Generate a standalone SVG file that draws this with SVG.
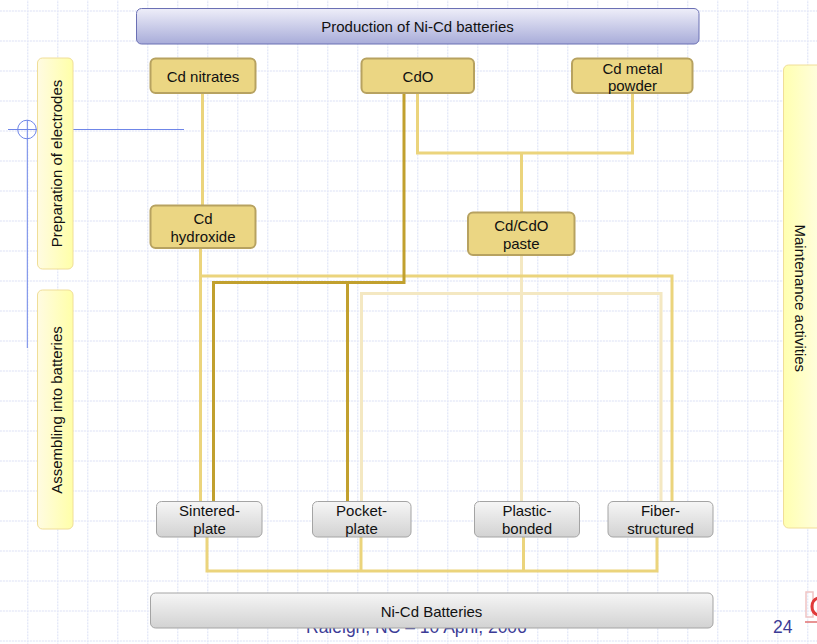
<svg xmlns="http://www.w3.org/2000/svg" width="817" height="644" viewBox="0 0 817 644">
<defs>
  <pattern id="grid" patternUnits="userSpaceOnUse" x="27.3" y="10.5" width="30" height="30">
    <line x1="0.5" y1="0" x2="0.5" y2="30" stroke="#cdd5f2" stroke-width="1" stroke-dasharray="1.5 1.5"/>
    <line x1="0" y1="0.5" x2="30" y2="0.5" stroke="#cdd5f2" stroke-width="1" stroke-dasharray="1.5 1.5"/>
  </pattern>
  <linearGradient id="hdr" x1="0" y1="0" x2="0" y2="1">
    <stop offset="0" stop-color="#eeeef9"/>
    <stop offset="1" stop-color="#a8acd9"/>
  </linearGradient>
  <linearGradient id="gray" x1="0" y1="0" x2="0" y2="1">
    <stop offset="0" stop-color="#f6f6f6"/>
    <stop offset="1" stop-color="#d2d2d2"/>
  </linearGradient>
  <linearGradient id="panL" x1="0" y1="0" x2="1" y2="0">
    <stop offset="0" stop-color="#fffbe2"/>
    <stop offset="1" stop-color="#ffffa8"/>
  </linearGradient>
  <linearGradient id="panR" x1="0" y1="0" x2="1" y2="0">
    <stop offset="0" stop-color="#ffffb0"/>
    <stop offset="1" stop-color="#fffdea"/>
  </linearGradient>
</defs>
<style>
  text { font-family: "Liberation Sans", Arial, sans-serif; font-size: 15px; fill: #111; }
  .c { text-anchor: middle; }
  .gold { fill: #ebd683; stroke: #b7a260; stroke-width: 2; }
  .grey { fill: url(#gray); stroke: #a4a4a4; stroke-width: 1; }
  .panel { stroke: #f0de98; stroke-width: 1; }
  .med { fill: none; stroke: #ebd47c; stroke-width: 3; }
  .dark { fill: none; stroke: #c1a02e; stroke-width: 3; }
  .pale { fill: none; stroke: #f4e8c2; stroke-width: 3; }
  .foot { font-size: 17.5px; fill: #3c3c96; }
</style>

<rect x="0" y="0" width="817" height="644" fill="#ffffff"/>
<rect x="0" y="0" width="817" height="644" fill="url(#grid)"/>

<text class="foot" x="306" y="633">Raleigh, NC – 10 April, 2006</text>
<text class="foot" x="773" y="633">24</text>

<g id="logo">
  <rect x="806" y="592" width="7" height="25" fill="none" stroke="#f0c4c4" stroke-width="1.5"/>
  <path d="M818 598 A9 9 0 0 0 818 615" fill="none" stroke="#e03a3a" stroke-width="3"/>
  <line x1="805" y1="622" x2="817" y2="622" stroke="#e07070" stroke-width="1.5"/>
</g>

<g id="crosshair" stroke="#6f86e8" stroke-width="1" fill="none">
  <circle cx="27" cy="129.5" r="9.3"/>
  <line x1="8" y1="129.5" x2="184" y2="129.5"/>
  <line x1="27.3" y1="120" x2="27.3" y2="348"/>
</g>

<g id="panel-prep">
  <rect class="panel" x="37.5" y="58" width="35.5" height="211" rx="5" fill="url(#panL)"/>
  <text class="c" transform="translate(62.3,163.5) rotate(-90)">Preparation of electrodes</text>
</g>
<g id="panel-assembly">
  <rect class="panel" x="37.5" y="290" width="35.5" height="239" rx="5" fill="url(#panL)"/>
  <text class="c" transform="translate(62.3,410) rotate(-90)">Assembling into batteries</text>
</g>
<g id="panel-maint">
  <rect class="panel" x="783.5" y="65" width="45" height="463" rx="5" fill="url(#panR)"/>
  <text class="c" transform="translate(795,298.3) rotate(90)">Maintenance activities</text>
</g>

<g id="header">
  <rect x="136.5" y="8.5" width="562.5" height="35.5" rx="5" fill="url(#hdr)" stroke="#6b70b4" stroke-width="1"/>
  <text class="c" x="417.5" y="32.3">Production of Ni-Cd batteries</text>
</g>

<g id="connectors">
  <path class="pale" d="M521.5 255 V501"/>
  <path class="pale" d="M361.5 501 V293.5 H661 V501"/>
  <path class="med" d="M202.5 93 V205"/>
  <path class="med" d="M200.5 248 V501"/>
  <path class="med" d="M200.5 276 H672 V501"/>
  <path class="med" d="M417.5 93 V153 H632.5 V93"/>
  <path class="med" d="M521.5 153 V212"/>
  <path class="med" d="M207 537 V571 H657 V537"/>
  <path class="med" d="M361 537 V571"/>
  <path class="med" d="M523.5 537 V571"/>
  <path class="dark" d="M404 93 V282.5 H213.5 V501"/>
  <path class="dark" d="M347.5 282.5 V501"/>
</g>

<g id="cd-nitrates">
  <rect class="gold" x="150.5" y="58.5" width="105" height="34.5" rx="5"/>
  <text class="c" x="203" y="82.3">Cd nitrates</text>
</g>
<g id="cdo">
  <rect class="gold" x="361.5" y="58.5" width="112.5" height="34.5" rx="5"/>
  <text class="c" x="418" y="82.3">CdO</text>
</g>
<g id="cd-metal-powder">
  <rect class="gold" x="572" y="58.5" width="120.5" height="34.5" rx="5"/>
  <text class="c" x="632.5" y="74">Cd metal</text>
  <text class="c" x="632.5" y="90.5">powder</text>
</g>
<g id="cd-hydroxide">
  <rect class="gold" x="150.5" y="205.5" width="105" height="42.5" rx="5"/>
  <text class="c" x="203" y="224.3">Cd</text>
  <text class="c" x="203" y="242.3">hydroxide</text>
</g>
<g id="cd-cdo-paste">
  <rect class="gold" x="468" y="212.5" width="106.5" height="42.5" rx="5"/>
  <text class="c" x="521.3" y="231">Cd/CdO</text>
  <text class="c" x="521.3" y="249">paste</text>
</g>

<g id="sintered-plate">
  <rect class="grey" x="156.5" y="501.5" width="105.5" height="35.5" rx="5"/>
  <text class="c" x="209.5" y="516">Sintered-</text>
  <text class="c" x="209.5" y="534">plate</text>
</g>
<g id="pocket-plate">
  <rect class="grey" x="312.5" y="501.5" width="98.5" height="35.5" rx="5"/>
  <text class="c" x="361.5" y="516">Pocket-</text>
  <text class="c" x="361.5" y="534">plate</text>
</g>
<g id="plastic-bonded">
  <rect class="grey" x="474.5" y="501.5" width="105" height="35.5" rx="5"/>
  <text class="c" x="527" y="516">Plastic-</text>
  <text class="c" x="527" y="534">bonded</text>
</g>
<g id="fiber-structured">
  <rect class="grey" x="608" y="501.5" width="105" height="35.5" rx="5"/>
  <text class="c" x="660.5" y="516">Fiber-</text>
  <text class="c" x="660.5" y="534">structured</text>
</g>

<g id="nicd-batteries">
  <rect class="grey" x="150.5" y="593" width="562.5" height="35" rx="5"/>
  <text class="c" x="431.5" y="616.7">Ni-Cd Batteries</text>
</g>
</svg>
